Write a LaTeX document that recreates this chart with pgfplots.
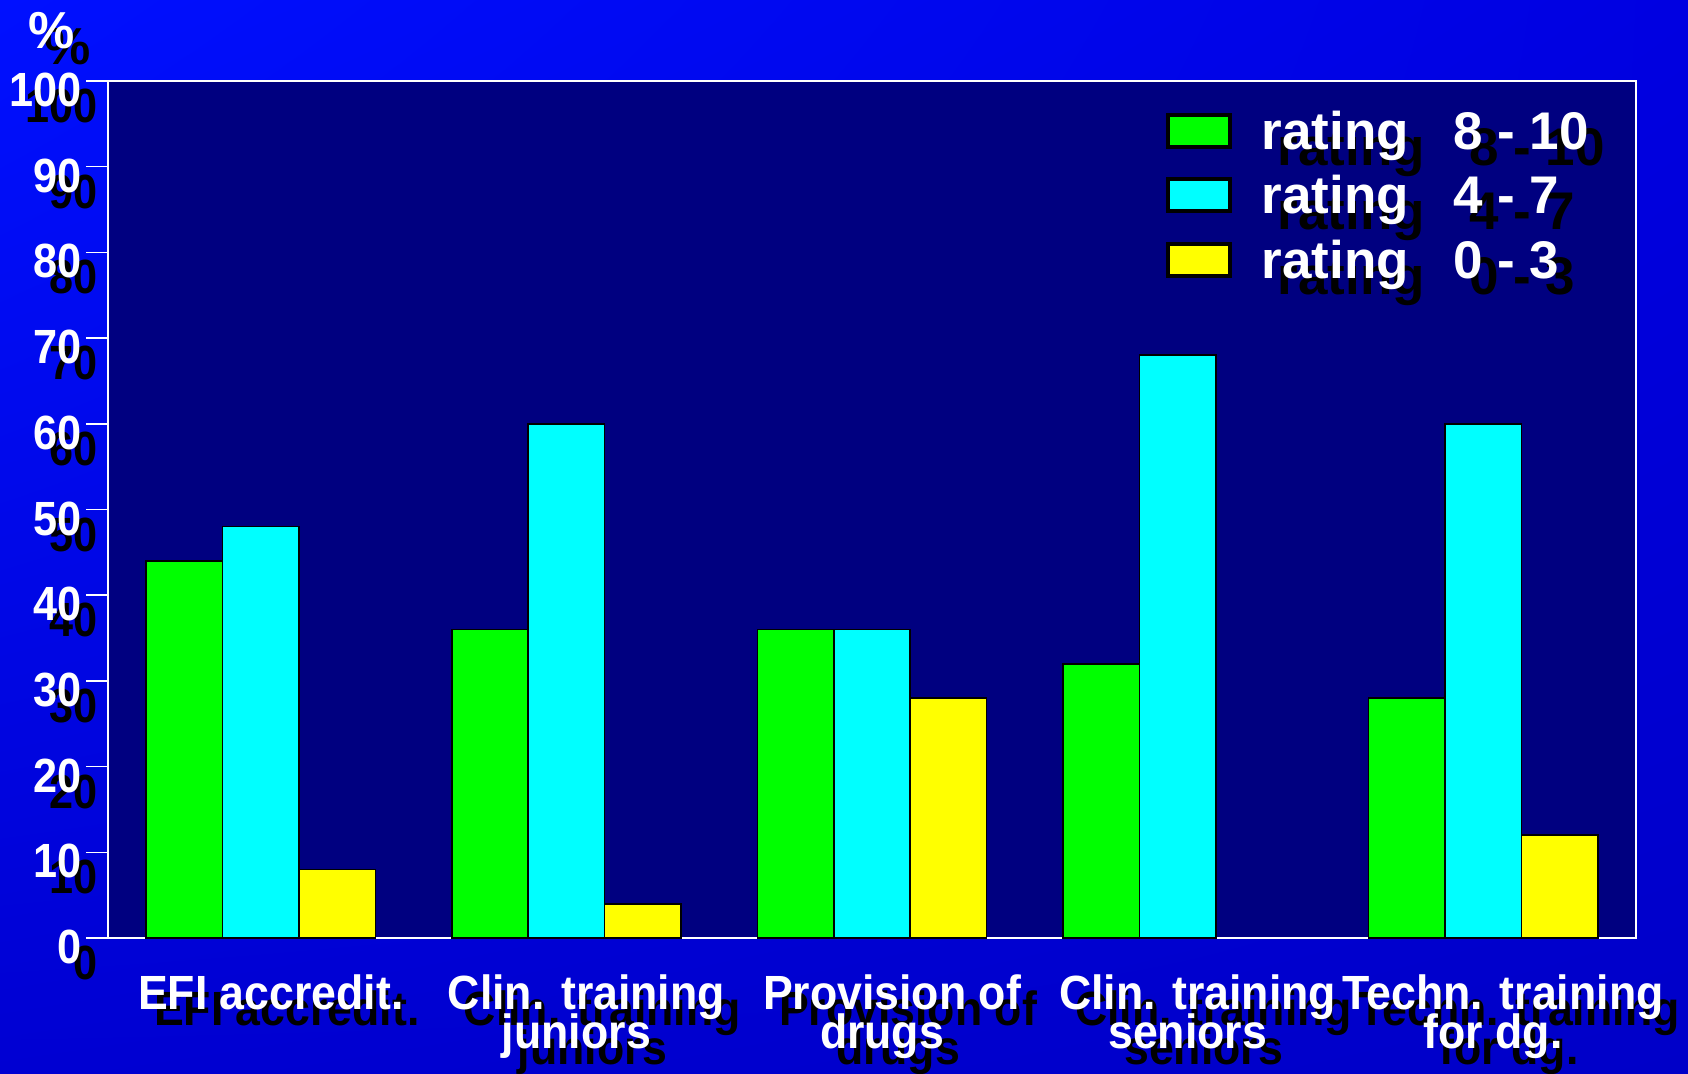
\documentclass[border=0pt]{standalone}
\usepackage{pgfplots}
\pgfplotsset{compat=1.18}
\usetikzlibrary{shadings}
\usepackage{fontspec}
\setmainfont{Liberation Sans}
\newfontfamily\tickfont{Liberation Sans}[FakeStretch=0.9]
\newfontfamily\labfont{Liberation Sans}[FakeStretch=0.93]
\definecolor{bgUL}{RGB}{0,16,255}
\definecolor{bgUR}{RGB}{0,0,225}
\definecolor{bgLL}{RGB}{0,0,210}
\definecolor{bgLR}{RGB}{0,0,200}
\definecolor{navyplot}{RGB}{0,0,128}
\definecolor{cgreen}{RGB}{0,255,0}
\definecolor{ccyan}{RGB}{0,255,255}
\definecolor{cyellow}{RGB}{255,255,0}
\newcommand\sh[1]{\leavevmode\rlap{\hspace*{8pt}\raisebox{-8pt}[0pt][0pt]{\color{black}#1}}{\color{white}#1}}
\newcommand\lab[2]{\sh{\begin{tabular}{@{}c@{}}\hspace*{10pt}#1\\[-3.5pt]#2\end{tabular}}}
\begin{document}
\begin{tikzpicture}
\shade[upper left=bgUL, upper right=bgUR, lower left=bgLL, lower right=bgLR] (0,0) rectangle (844pt,536.5pt);
\begin{axis}[
  at={(54pt,67.5pt)}, anchor=south west,
  scale only axis, width=764pt, height=428.5pt,
  axis background/.style={fill=navyplot},
  axis line style={white, line width=1pt},
  ybar=0pt, bar width=0.25,
  xmin=-0.5, xmax=4.5, ymin=0, ymax=100,
  xtick={0,1,2,3,4},
  major x tick style={draw=none},
  extra x ticks={-0.5,0.5,1.5,2.5,3.5,4.5},
  extra x tick labels={},
  extra x tick style={major tick length=11pt, tick align=outside, tick style={white, line width=0.8pt, draw=white}},
  ytick={0,10,...,100},
  yticklabels={\sh{0},\sh{10},\sh{20},\sh{30},\sh{40},\sh{50},\sh{60},\sh{70},\sh{80},\sh{90},\sh{100}},
  y tick style={white, line width=0.8pt},
  major tick length=11pt, tick align=outside,
  tick pos=left,
  yticklabel style={font=\tickfont\bfseries\fontsize{24}{26}\selectfont, anchor=east, inner sep=0pt, xshift=-2pt, yshift=-4.5pt},
  xticklabels={{\sh{EFI accredit.}},{\lab{Clin. training}{juniors}},{\lab{Provision of}{drugs}},{\lab{Clin. training}{seniors}},{\lab{Techn. training}{for dg.}}},
  xticklabel style={font=\labfont\bfseries\fontsize{24}{18.5}\selectfont, anchor=north, inner sep=0pt, yshift=-7pt, xshift=5pt},
  legend style={at={(rel axis cs:0.692,0.97)}, anchor=north west, draw=none, fill=none, inner sep=0pt,
     font=\bfseries\fontsize{26.5}{28}\selectfont, row sep=7.5pt,
     /tikz/every odd column/.append style={column sep=13pt}},
  legend cell align=left,
  clip=false,
]
\addplot[fill=cgreen, draw=black, line width=0.8pt, legend image code/.code={\draw[fill=cgreen,draw=black,line width=2pt] (0pt,-7.5pt) rectangle (31pt,8.5pt);}] coordinates {(0,44) (1,36) (2,36) (3,32) (4,28)};
\addplot[fill=ccyan, draw=black, line width=0.8pt, legend image code/.code={\draw[fill=ccyan,draw=black,line width=2pt] (0pt,-7.5pt) rectangle (31pt,8.5pt);}] coordinates {(0,48) (1,60) (2,36) (3,68) (4,60)};
\addplot[fill=cyellow, draw=black, line width=0.8pt, legend image code/.code={\draw[fill=cyellow,draw=black,line width=2pt] (0pt,-7.5pt) rectangle (31pt,8.5pt);}] coordinates {(0,8) (1,4) (2,28) (4,12)};
\legend{\sh{rating\hspace{22pt}8 - 10},\sh{rating\hspace{22pt}4 - 7},\sh{rating\hspace{22pt}0 - 3}}
\end{axis}
\node[font=\bfseries\fontsize{26}{28}\selectfont, inner sep=0pt] at (26pt,521pt) {\sh{\%}};
\pgfresetboundingbox
\useasboundingbox (0,0) rectangle (844pt,536.5pt);
\end{tikzpicture}
\end{document}
